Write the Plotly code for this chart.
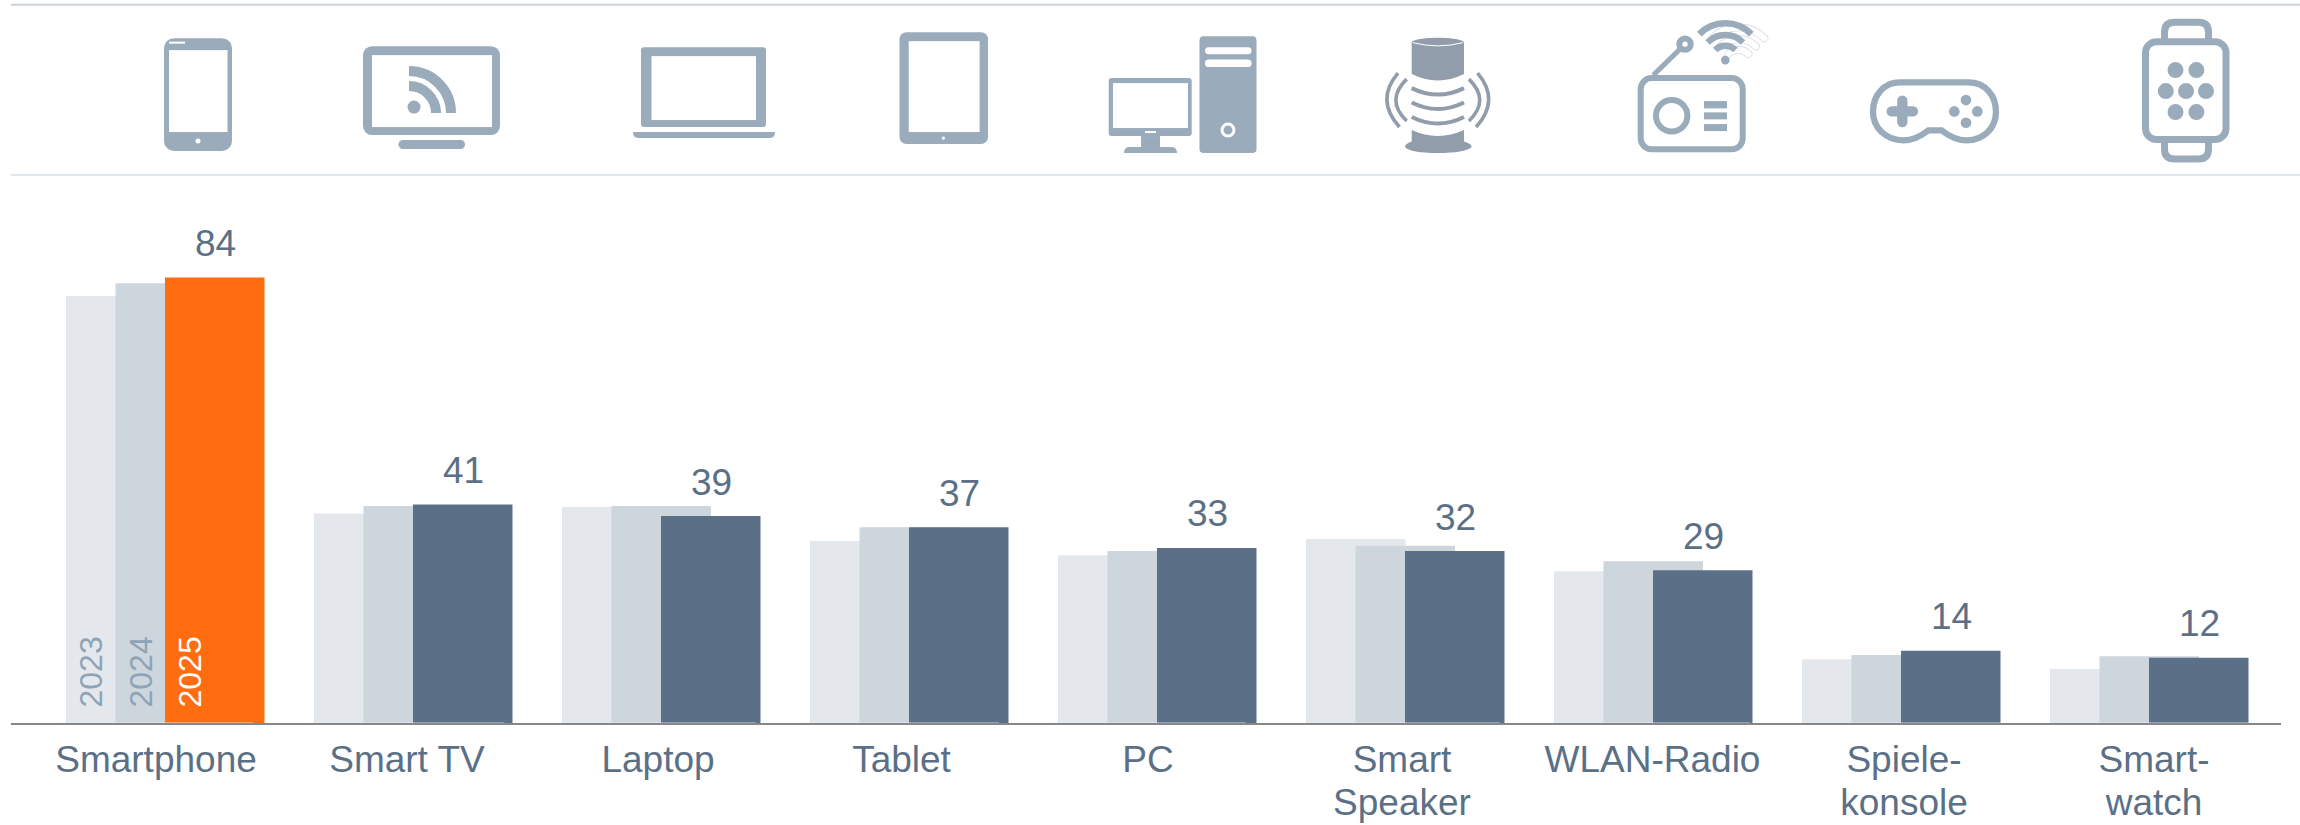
import base64
import math
import plotly.graph_objects as go

CATEGORIES = ["Smartphone", "Smart TV", "Laptop", "Tablet", "PC", "Smart<br>Speaker",
              "WLAN-Radio", "Spiele-<br>konsole", "Smart-<br>watch"]
YEARS = ["2023", "2024", "2025"]
VALUES_2023 = [80.5, 39.5, 40.7, 34.3, 31.6, 34.7, 28.6, 12.0, 10.2]
VALUES_2024 = [82.9, 40.9, 40.9, 36.9, 32.4, 33.4, 30.5, 12.8, 12.6]
VALUES_2025 = [84.0, 41.2, 39.0, 36.9, 33.0, 32.4, 28.8, 13.6, 12.3]
LABELS_2025 = ["84", "41", "39", "37", "33", "32", "29", "14", "12"]

W, H = 2300, 825
ML, MR, MT, MB = 11, 19, 190, 101.5
PW, PH = W - ML - MR, H - MT - MB
PX_PER_UNIT = 5.31
STEP = 248.0
CENTER = 165.5
# the reference's category labels sit on their own slightly irregular pixel positions
LABEL_X = [156, 407, 658, 901.5, 1148, 1402, 1652.5, 1904, 2154]
BAR_W = 99.5 / STEP
FONT = "Liberation Sans"
SLATE = "#5b7086"
ICON = "#9aabbb"
ICON_DARK = "#919daa"


def arc(cx, cy, r, a=45):
    s = math.sin(math.radians(a)) * r
    c = math.cos(math.radians(a)) * r
    return f"M{cx-s:.1f} {cy-c:.1f} A{r} {r} 0 0 1 {cx+s:.1f} {cy-c:.1f}"


def wifi():
    cx, cy = 1725.3, 60
    out = ""
    for r in (36.7, 25, 14.3):
        d = arc(cx + 13, cy + 4, r)
        out += f'<path d="{d}" stroke="#d9dde1" stroke-width="8" stroke-linecap="round" fill="none"/>'
        out += f'<path d="{d}" stroke="#fff" stroke-width="6.4" stroke-linecap="round" fill="none"/>'
    for r in (36.7, 25, 14.3):
        out += f'<path d="{arc(cx, cy, r)}" stroke="{ICON}" stroke-width="6.5" fill="none"/>'
    out += f'<circle cx="{cx}" cy="{cy}" r="4.3" fill="{ICON}"/>'
    return out


speaker_bands = "".join(
    f'<path d="M1411.7 {y} Q1437.8 {y+13} 1464 {y}" stroke="{ICON_DARK}" stroke-width="4" fill="none"/>'
    for y in (88, 102.5, 117)
)
speaker_arcs = "".join(
    f'<path d="{d}" stroke="{ICON_DARK}" stroke-width="3.6" fill="none"/>'
    for d in ("M1398 73 Q1375 100 1399.5 127", "M1406.7 79 Q1385 100 1406.7 121",
              "M1477.6 73 Q1500.6 100 1476.1 127", "M1468.9 79 Q1490.6 100 1468.9 121")
)
dots = "".join(f'<circle cx="{x}" cy="{y}" r="8" fill="{ICON}"/>' for x, y in
               [(2175.5, 70), (2196.4, 70), (2165.8, 91), (2186, 91), (2206, 91), (2175.5, 112), (2196.4, 112)])

svg = f'''<svg xmlns="http://www.w3.org/2000/svg" width="{W}" height="175" viewBox="0 0 {W} 175">
<!-- smartphone -->
<rect x="164" y="38" width="68" height="113" rx="10" fill="{ICON}"/>
<rect x="169" y="50" width="58.5" height="82" fill="#fff"/>
<rect x="169" y="41.5" width="16" height="2" fill="#fff"/>
<circle cx="198" cy="141" r="2.5" fill="#fff"/>
<!-- tv -->
<rect x="363" y="46" width="137" height="89" rx="9" fill="{ICON}"/>
<rect x="372" y="55" width="120" height="72" fill="#fff"/>
<rect x="398.5" y="140" width="66.5" height="9" rx="4.5" fill="{ICON}"/>
<circle cx="414" cy="107" r="6.5" fill="{ICON}"/>
<path d="M409 86 A27 27 0 0 1 436 113" stroke="{ICON}" stroke-width="10" fill="none"/>
<path d="M409 71 A42 42 0 0 1 451 113" stroke="{ICON}" stroke-width="10" fill="none"/>
<!-- laptop -->
<rect x="641" y="47" width="125" height="80" rx="3" fill="{ICON}"/>
<rect x="651.5" y="56" width="104.5" height="64" fill="#fff"/>
<path d="M633 132 H775 V133 Q775 138 769 138 H639 Q633 138 633 133 Z" fill="{ICON}"/>
<!-- tablet -->
<rect x="899.5" y="32" width="88.5" height="112" rx="7" fill="{ICON}"/>
<rect x="908.7" y="41" width="70.9" height="91" fill="#fff"/>
<circle cx="943.4" cy="138" r="1.6" fill="#fff"/>
<!-- pc -->
<rect x="1199.5" y="36" width="57" height="117" rx="4" fill="{ICON}"/>
<rect x="1205" y="47" width="46.5" height="7" rx="3.5" fill="#fff"/>
<rect x="1205" y="59.5" width="46.5" height="7.5" rx="3.7" fill="#fff"/>
<circle cx="1228" cy="130" r="6" stroke="#fff" stroke-width="3" fill="{ICON}"/>
<rect x="1108.7" y="78" width="83" height="58" rx="3" fill="{ICON}"/>
<rect x="1113" y="83" width="75" height="45" fill="#fff"/>
<rect x="1145" y="131" width="11" height="2" fill="#fff"/>
<rect x="1141" y="136" width="19" height="12" fill="{ICON}"/>
<path d="M1124 153 Q1124 147 1130 147 H1171 Q1177 147 1177 153 Z" fill="{ICON}"/>
<!-- speaker -->
<path d="M1411.7 42 A26.2 4.6 0 0 1 1464 42 V74 Q1437.8 87 1411.7 74 Z" fill="{ICON_DARK}"/>
<path d="M1412.7 42.5 Q1437.8 49 1463 42.5" stroke="#fff" stroke-width="1" fill="none"/>
{speaker_bands}{speaker_arcs}
<path d="M1411.7 130 Q1437.8 142 1464 130 V141.5 Q1471.7 144 1471.7 147 Q1465 153 1437.8 153 Q1410 153 1405 147 Q1405 144 1411.7 141.5 Z" fill="{ICON_DARK}"/>
<!-- radio -->
{wifi()}
<line x1="1653.3" y1="75" x2="1681" y2="48" stroke="{ICON}" stroke-width="5"/>
<circle cx="1685" cy="44" r="5.7" stroke="{ICON}" stroke-width="6" fill="#fff"/>
<rect x="1640.7" y="78" width="102" height="71.3" rx="11" stroke="{ICON}" stroke-width="6" fill="#fff"/>
<circle cx="1671.7" cy="115.7" r="15.7" stroke="{ICON}" stroke-width="6" fill="#fff"/>
<rect x="1704" y="101" width="23" height="7.3" fill="{ICON}"/>
<rect x="1704" y="112.3" width="23" height="7" fill="{ICON}"/>
<rect x="1704" y="124" width="23" height="7" fill="{ICON}"/>
<!-- gamepad -->
<g transform="translate(1860 70) scale(0.3333)">
<path d="M120 37 L325 37 C375 37 408 75 408 125 C408 175 370 211 320 211 C290 211 265 197 245 181 L205 181 C185 197 160 211 130 211 C80 211 39 175 39 125 C39 75 72 37 120 37 Z" stroke="{ICON}" stroke-width="19" fill="#fff"/>
<path d="M95 124 H159 M127 92 V156" stroke="{ICON}" stroke-width="31" stroke-linecap="round" fill="none"/>
<circle cx="318" cy="90" r="16" fill="{ICON}"/><circle cx="283" cy="124" r="16" fill="{ICON}"/>
<circle cx="352" cy="124" r="16" fill="{ICON}"/><circle cx="318" cy="158" r="16" fill="{ICON}"/>
</g>
<!-- watch -->
<path d="M2164.5 41 V32 Q2164.5 22 2174.5 22 H2198.5 Q2208.5 22 2208.5 32 V41" stroke="{ICON}" stroke-width="7" fill="none"/>
<path d="M2164.5 140 V149 Q2164.5 159 2174.5 159 H2198.5 Q2208.5 159 2208.5 149 V140" stroke="{ICON}" stroke-width="7" fill="none"/>
<rect x="2145.5" y="41.5" width="80.5" height="98" rx="11" stroke="{ICON}" stroke-width="7" fill="#fff"/>
{dots}
</svg>'''
svg_uri = "data:image/svg+xml;base64," + base64.b64encode(svg.encode()).decode()

fig = go.Figure()
series = [
    (VALUES_2023, "#e4e8ed", -99.5 / STEP, YEARS[0]),
    (VALUES_2024, "#cdd5dd", -50.0 / STEP, YEARS[1]),
    (VALUES_2025, [("#ff6d10" if i == 0 else SLATE) for i in range(len(CATEGORIES))], -0.5 / STEP, YEARS[2]),
]
for vals, col, off, name in series:
    fig.add_trace(go.Bar(x=CATEGORIES, y=vals, name=name, width=BAR_W, offset=off,
                         marker=dict(color=col, line=dict(width=0)), showlegend=False,
                         xaxis="x", yaxis="y"))
# carries the category labels on their own pixel-scaled axis
fig.add_trace(go.Bar(x=LABEL_X, y=[0] * len(CATEGORIES), marker=dict(color="rgba(0,0,0,0)"),
                     showlegend=False, hoverinfo="skip", xaxis="x2", yaxis="y"))

annotations = []
for cat, v, lab in zip(CATEGORIES, VALUES_2025, LABELS_2025):
    annotations.append(dict(x=cat, y=v, xref="x", yref="y", text=lab, showarrow=False,
                            xanchor="center", yanchor="bottom", xshift=49.5, yshift=11.5,
                            font=dict(family=FONT, size=37, color=SLATE)))
for year, xs, col in zip(YEARS, (-75.5, -25.5, 23.5), ("#8ea3b6", "#8ea3b6", "#ffffff")):
    annotations.append(dict(x=CATEGORIES[0], y=0, xref="x", yref="y", text=year, showarrow=False,
                            textangle=-90, xanchor="center", yanchor="bottom", xshift=xs, yshift=13,
                            font=dict(family=FONT, size=32, color=col)))

rules = []
for py, col in ((4.5, "#c9d3de"), (175, "#e0e6eb")):
    rules.append(dict(type="line", xref="paper", yref="paper",
                      x0=0, x1=(W - ML) / PW, y0=1 + (MT - py) / PH, y1=1 + (MT - py) / PH,
                      line=dict(color=col, width=2)))

fig.update_layout(
    width=W, height=H, margin=dict(l=ML, r=MR, t=MT, b=MB, pad=0, autoexpand=False),
    paper_bgcolor="white", plot_bgcolor="white", barmode="overlay", showlegend=False,
    font=dict(family=FONT, size=37, color=SLATE),
    xaxis=dict(type="category", categoryorder="array", categoryarray=CATEGORIES, automargin=False,
               range=[-(CENTER - ML) / STEP, (W - MR - CENTER) / STEP],
               showticklabels=False, ticks="", showgrid=False, zeroline=False,
               showline=True, linecolor="rgba(70,70,70,0.65)", linewidth=2),
    xaxis2=dict(type="linear", automargin=False, overlaying="x", anchor="y", side="bottom",
                range=[ML, W - MR], tickmode="array", tickvals=LABEL_X, ticktext=CATEGORIES,
                ticks="", showgrid=False, zeroline=False, showline=False, tickangle=0,
                tickfont=dict(family=FONT, size=37, color=SLATE), ticklabelstandoff=11),
    yaxis=dict(range=[0, PH / PX_PER_UNIT], visible=False, fixedrange=True, automargin=False),
    annotations=annotations, shapes=rules,
    images=[dict(source=svg_uri, xref="paper", yref="paper", x=-ML / PW, y=1 + MT / PH,
                 sizex=W / PW, sizey=175 / PH, xanchor="left", yanchor="top",
                 sizing="stretch", layer="above")],
)
post = """
document.body.style.margin='0';
document.documentElement.style.overflow='hidden';
function tightenLabels(){
  document.querySelectorAll('g.x2tick text tspan, .xaxislayer-above text tspan').forEach(function(t){
    var d = parseFloat(t.getAttribute('dy') || '0');
    if (d > 1) { t.setAttribute('dy', '1.17em'); }
  });
}
tightenLabels();
[50, 200, 500].forEach(function(ms){ setTimeout(tightenLabels, ms); });
"""
fig.write_html("out.html", config=dict(displayModeBar=False), post_script=post)
